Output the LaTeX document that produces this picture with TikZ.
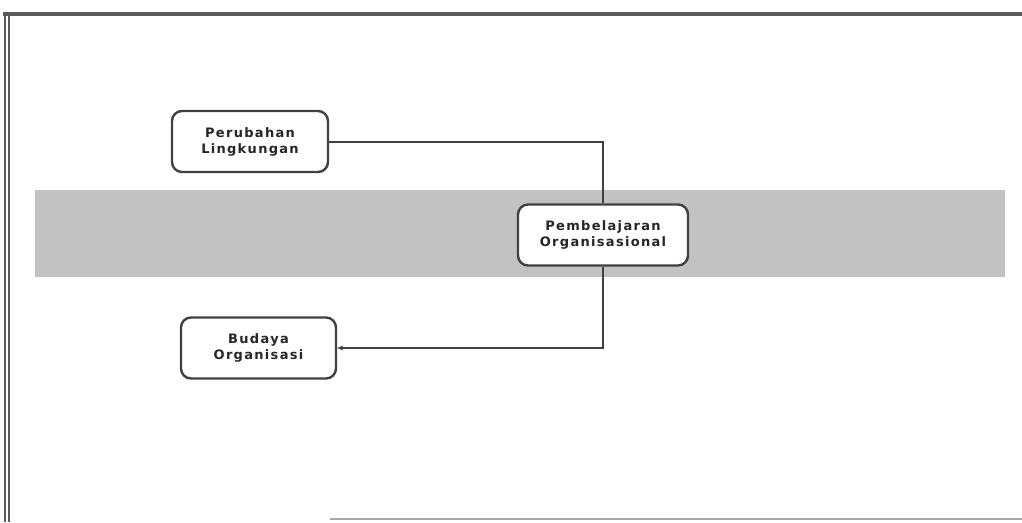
\documentclass[tikz,border=0pt]{standalone}
\usepackage{fontspec}
\setmainfont{DejaVu Sans}
\newfontfamily\boxfont[LetterSpace=10]{DejaVu Sans}
\usetikzlibrary{arrows.meta}
\definecolor{bandgray}{HTML}{C2C2C2}
\definecolor{linegray}{HTML}{404040}
\definecolor{framegray}{HTML}{5A5A5A}
\tikzset{
  box/.style={draw=linegray, line width=2.4pt, rounded corners=10pt, fill=white,
    minimum width=156pt, minimum height=61pt, align=center,
    font=\boxfont\bfseries\fontsize{13}{16}\selectfont, text=black!85},
  conn/.style={draw=linegray, line width=2pt},
}
\begin{document}
\begin{tikzpicture}[x=1pt,y=-1pt]
\useasboundingbox (0,0) rectangle (1022,522);
\fill[white] (0,0) rectangle (1022,522);
% frame
\draw[framegray, line width=3.5pt] (3,14) -- (1022,14);
\draw[framegray, line width=2.2pt] (5,14) -- (5,522);
\draw[framegray, line width=1.6pt] (9,16) -- (9,522);
\draw[black!35, line width=1.5pt] (330,519) -- (1022,519);
% band
\fill[bandgray] (35,190) rectangle (1005,277);
% nodes
\node[box] (pl) at (250,141.5) {Perubahan\\Lingkungan};
\node[box, minimum width=170pt] (po) at (603,235) {Pembelajaran\\Organisasional};
\node[box, minimum width=155pt] (bo) at (258.5,348) {Budaya\\Organisasi};
% connectors
\coordinate (c1) at (po.north |- pl.east);
\coordinate (c2) at (po.south |- bo.east);
\draw[conn] (pl.east) -- (c1) -- (po.north);
\draw[conn, -{Stealth[length=6pt,width=5pt]}] (po.south) -- (c2) -- (bo.east);
\end{tikzpicture}
\end{document}
